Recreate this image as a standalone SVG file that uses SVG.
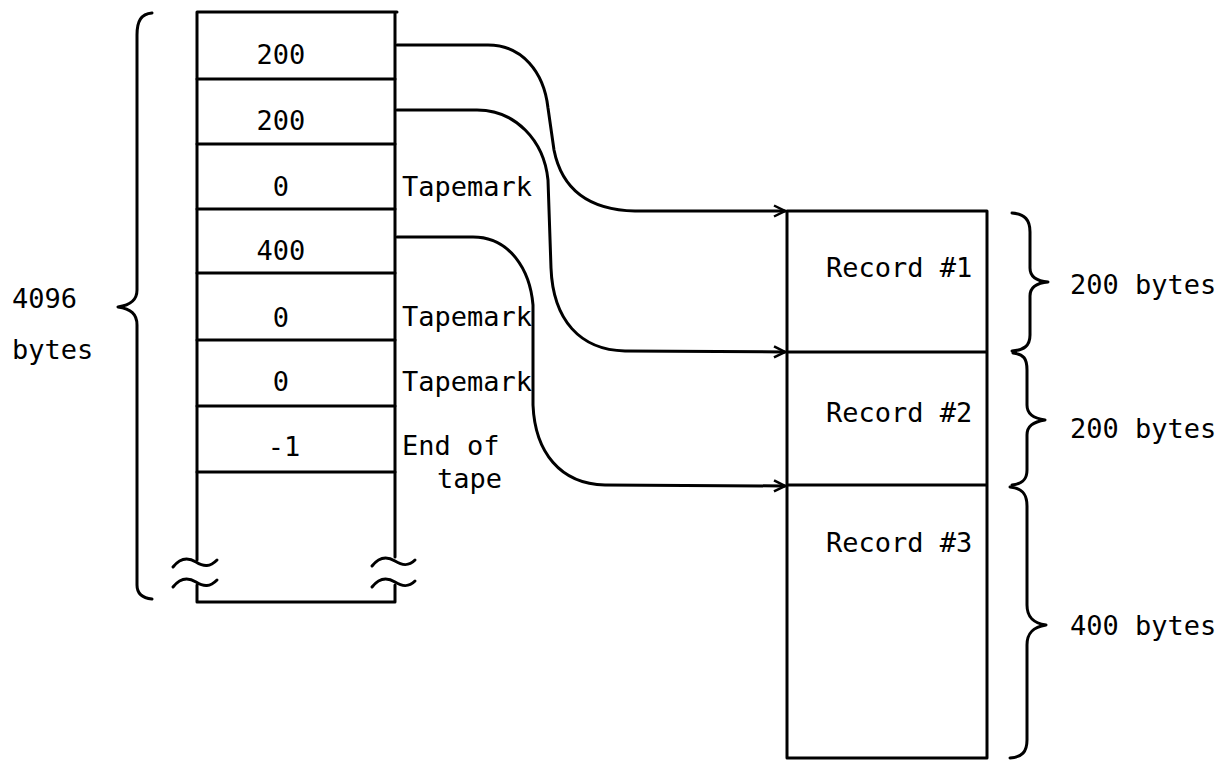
<svg xmlns="http://www.w3.org/2000/svg" width="1223" height="761" viewBox="0 0 1223 761">
<style>
.ln{fill:none;stroke:#000;stroke-width:3;stroke-linecap:round;stroke-linejoin:round}
.tx{font-family:"DejaVu Sans Mono","Liberation Mono",monospace;font-size:27px;fill:#000}
.mid{text-anchor:middle}
</style>
<defs>
<marker id="arr" markerWidth="14" markerHeight="14" refX="12" refY="7" orient="auto" markerUnits="userSpaceOnUse">
<path d="M1,1.5 L12,7 L1,12.5" fill="none" stroke="#000" stroke-width="2.5" stroke-linejoin="miter"/>
</marker>
</defs>
<rect width="1223" height="761" fill="#fff"/>
<g id="left-brace">
<path class="ln" d="M152,13 C141,14 137,21 137,35 L137,290 C137,300 131,305 118,307 C131,309 137,314 137,325 L137,585 C137,594 142,598 152,599"/>
<text class="tx" x="12" y="308">4096</text>
<text class="tx" x="12" y="359">bytes</text>
</g>
<g id="tape-block">
<path class="ln" d="M197,560 L197,12 L397,12 M395,12 L395,557 M197,585 L197,602 L395,602 L395,585"/>
<path class="ln" d="M197,79 L395,79 M197,144 L395,144 M197,209 L395,209 M197,273 L395,273 M197,340 L395,340 M197,406 L395,406 M197,472 L395,472"/>
<path class="ln" d="M173,567 C180,558 188,557 196,562 C204,567 210,567 217,560 M173,587 C180,578 188,577 196,582 C204,587 210,587 217,580"/>
<path class="ln" d="M372,566 C379,557 387,556 395,561 C403,566 409,566 415,560 M372,587 C379,578 387,577 395,582 C403,587 409,587 415,581"/>
</g>
<g id="cell-1"><text class="tx mid" x="281" y="64">200</text></g>
<g id="cell-2"><text class="tx mid" x="281" y="130">200</text></g>
<g id="cell-3"><text class="tx mid" x="281" y="196">0</text><text class="tx" x="402" y="196">Tapemark</text></g>
<g id="cell-4"><text class="tx mid" x="281" y="260">400</text></g>
<g id="cell-5"><text class="tx mid" x="281" y="327">0</text><text class="tx" x="402" y="326">Tapemark</text></g>
<g id="cell-6"><text class="tx mid" x="281" y="391">0</text><text class="tx" x="402" y="391">Tapemark</text></g>
<g id="cell-7"><text class="tx mid" x="284" y="456">-1</text><text class="tx" x="402" y="455">End of</text><text class="tx" x="437" y="488">tape</text></g>
<g id="records">
<path class="ln" d="M787,211 L987,211 L987,758 L787,758 Z M787,352 L987,352 M787,485 L987,485"/>
</g>
<g id="record-1"><text class="tx" x="826" y="277">Record #1</text></g>
<g id="record-2"><text class="tx" x="826" y="422">Record #2</text></g>
<g id="record-3"><text class="tx" x="826" y="552">Record #3</text></g>
<g id="right-braces">
<path class="ln" d="M1012,213 C1025,214 1030,220 1030,232 L1030,268 C1030,277 1036,281 1048,282 C1036,283 1030,287 1030,296 L1030,335 C1030,346 1024,350 1012,351"/>
<path class="ln" d="M1013,353 C1024,354 1027,359 1027,370 L1027,405 C1027,414 1033,418 1045,420 C1033,422 1027,426 1027,435 L1027,470 C1027,480 1022,484 1012,485"/>
<path class="ln" d="M1010,487 C1022,488 1027,494 1027,506 L1027,605 C1027,617 1033,623 1046,625 C1033,627 1027,633 1027,645 L1027,740 C1027,752 1022,757 1010,758"/>
<text class="tx" x="1070" y="294">200 bytes</text>
<text class="tx" x="1070" y="438">200 bytes</text>
<text class="tx" x="1070" y="635">400 bytes</text>
</g>
<g id="connectors">
<path class="ln" marker-end="url(#arr)" d="M397,45 L488,45 C522,45 544,72 548,108 L554,150 C562,190 590,210 635,211 L785,211"/>
<path class="ln" marker-end="url(#arr)" d="M397,110 L477,110 C515,110 544,140 548,180 L551,268 C553,320 580,350 625,351 L785,352"/>
<path class="ln" marker-end="url(#arr)" d="M397,237 L473,237 C510,237 530,270 533,305 L533,405 C535,452 560,484 605,485 L785,486"/>
</g>
</svg>
